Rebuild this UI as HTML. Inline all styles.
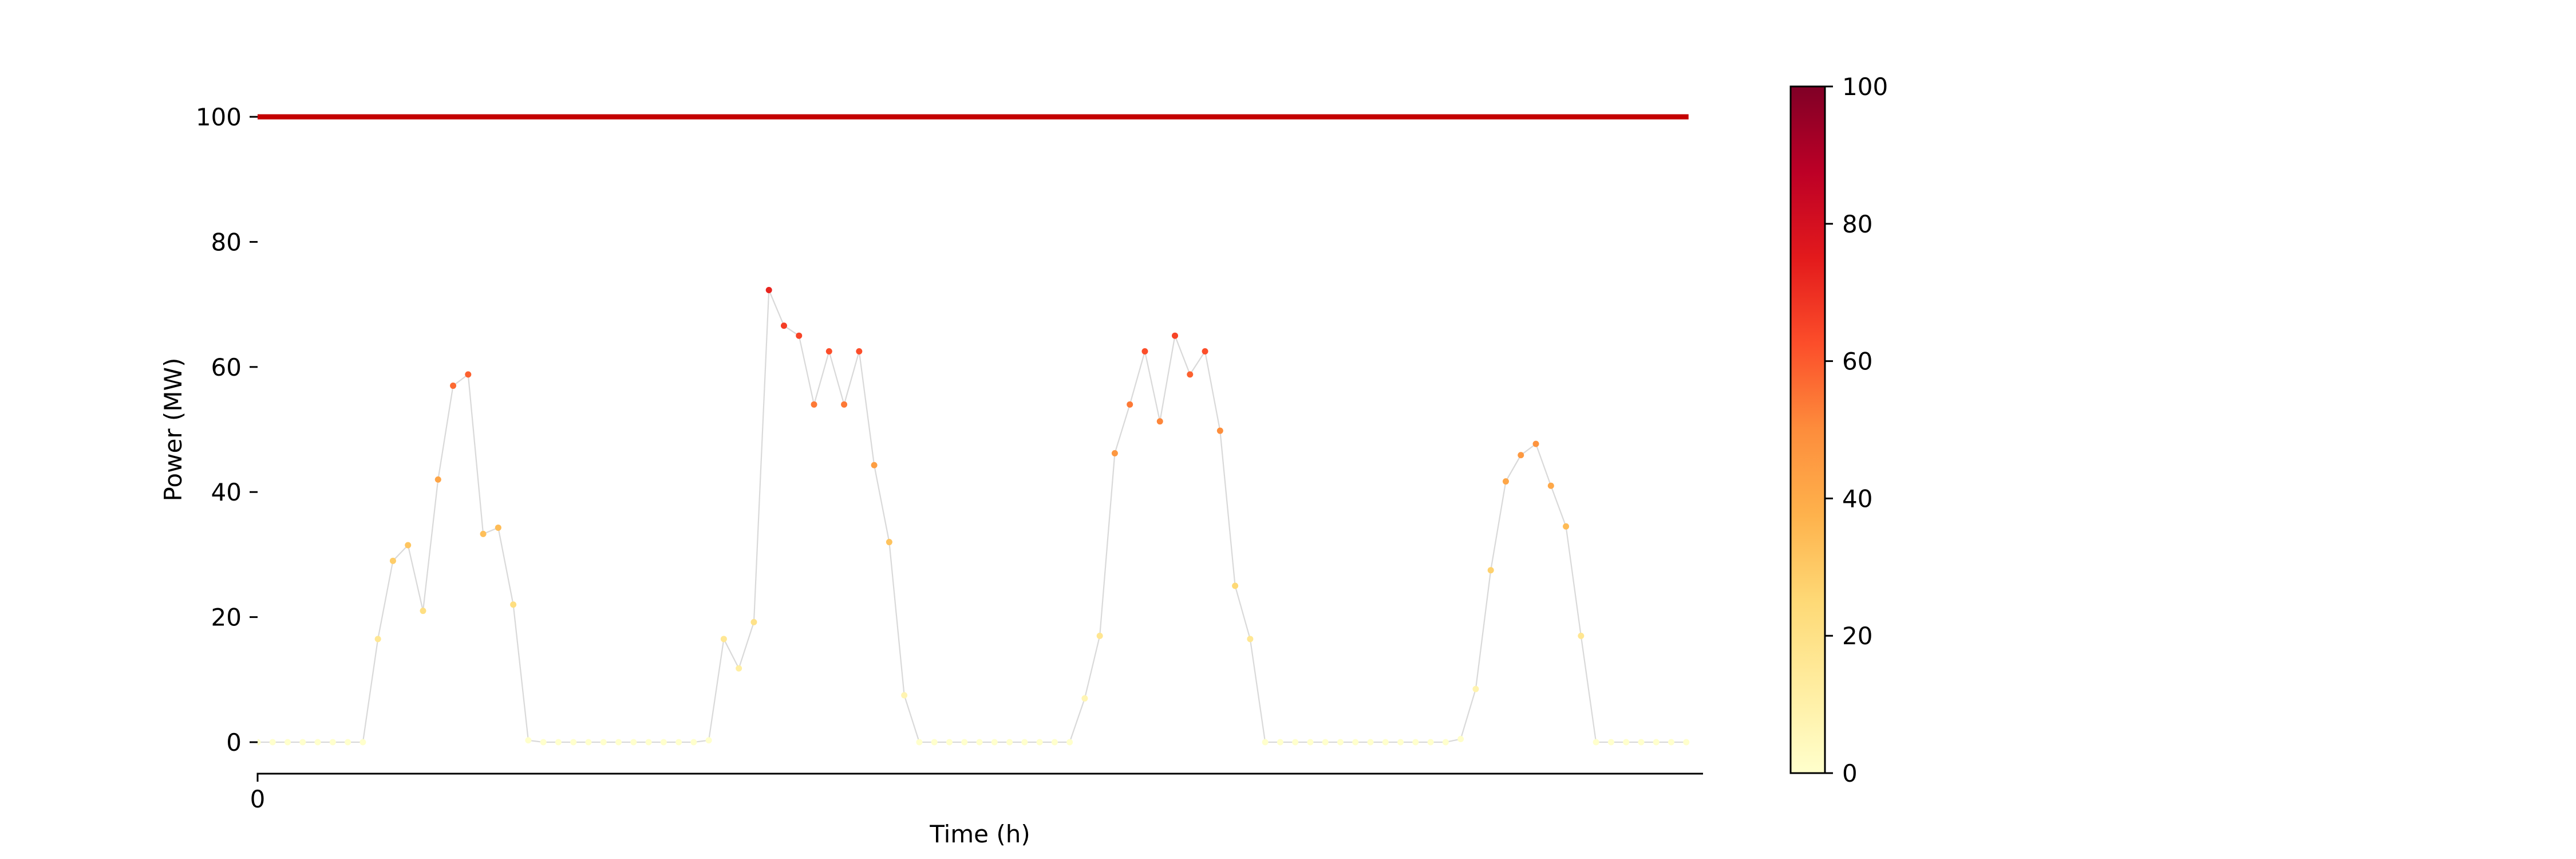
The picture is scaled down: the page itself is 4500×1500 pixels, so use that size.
<!DOCTYPE html>
<html><head><meta charset="utf-8"><style>
html,body{margin:0;padding:0;background:#fff;}
svg{display:block;font-family:"DejaVu Sans","Liberation Sans",sans-serif;}
</style></head><body>
<svg id="chart" width="4500" height="1500" viewBox="0 0 4500 1500" xmlns="http://www.w3.org/2000/svg">
<defs>
<linearGradient id="cbgrad" x1="0" y1="1" x2="0" y2="0">
<stop offset="0" stop-color="#ffffcc"/><stop offset="0.125" stop-color="#ffeda0"/><stop offset="0.25" stop-color="#fed976"/><stop offset="0.375" stop-color="#feb24c"/><stop offset="0.5" stop-color="#fd8d3c"/><stop offset="0.625" stop-color="#fc4e2a"/><stop offset="0.75" stop-color="#e31a1c"/><stop offset="0.875" stop-color="#bd0026"/><stop offset="1" stop-color="#800026"/>
</linearGradient>
<clipPath id="plotclip"><rect x="450" y="100" width="2600" height="1260"/></clipPath>
</defs>
<g id="plot"></g>
<g id="axes"></g>
<g id="cbar"></g>
</svg>
<script>
const powerValues = [0,0,0,0,0,0,0,0,16.5,29,31.5,21,42,57,58.8,33.3,34.3,22,0.3,0,0,0,0,0,0,0,0,0,0,0,0.3,16.5,11.8,19.2,72.3,66.6,65,54,62.5,54,62.5,44.3,32,7.5,0,0,0,0,0,0,0,0,0,0,0,7,17,46.2,54,62.5,51.3,65,58.8,62.5,49.8,25,16.5,0,0,0,0,0,0,0,0,0,0,0,0,0,0.5,8.5,27.5,41.7,45.9,47.7,41,34.5,17,0,0,0,0,0,0,0];
const capacityValue = 100;
const yTicks = [0,20,40,60,80,100];
const xTicks = [0];
const cbarTicks = [0,20,40,60,80,100];

const NS='http://www.w3.org/2000/svg';
const X0=450, XW=2522, XMAX=96;
const Y0=1296, YS=10.92;
const xs=i=>X0+i*XW/XMAX;
const ys=v=>Y0-v*YS;
const CB={x:3128,w:60,top:151,bot:1350};
const cbY=v=>CB.bot-(v/100)*(CB.bot-CB.top);
const stops=['#ffffcc','#ffeda0','#fed976','#feb24c','#fd8d3c','#fc4e2a','#e31a1c','#bd0026','#800026'];
function hex(c){return [1,3,5].map(k=>parseInt(c.substr(k,2),16));}
function cmap(v){let t=Math.max(0,Math.min(1,v/100))*8;let i=Math.min(7,Math.floor(t));let f=t-i;let a=hex(stops[i]),b=hex(stops[i+1]);return 'rgb('+a.map((c,k)=>Math.round(c+(b[k]-c)*f)).join(',')+')';}
function mk(tag,attrs,parent){const e=document.createElementNS(NS,tag);for(const k in attrs)e.setAttribute(k,attrs[k]);parent.appendChild(e);return e;}

const plot=document.getElementById('plot');
const axes=document.getElementById('axes');
const cbar=document.getElementById('cbar');

const cap=mk('line',{x1:xs(0),x2:xs(powerValues.length-1)+4,y1:ys(capacityValue),y2:ys(capacityValue),stroke:'#c40000','stroke-width':9},plot);



const pl=mk('polyline',{points:powerValues.map((v,i)=>xs(i)+','+ys(v)).join(' '),fill:'none',stroke:'#d9d9d9','stroke-width':2.2,'clip-path':'url(#plotclip)'},plot);



const pg=mk('g',{'clip-path':'url(#plotclip)'},plot);
powerValues.forEach((v,i)=>{
  const c=mk('circle',{cx:xs(i),cy:ys(v),r:5.5,fill:cmap(v)},pg);
  
  
});

yTicks.forEach(t=>{
  const y=ys(t);
  const tk=mk('line',{x1:X0-14,x2:X0,y1:y,y2:y,stroke:'#000','stroke-width':3},axes);
  
  
  const tx=mk('text',{x:X0-28,y:y+15,'text-anchor':'end','font-size':42,fill:'#000'},axes);
  tx.textContent=t;
  
  
});
const sp=mk('line',{x1:X0-1.5,x2:2975,y1:1351,y2:1351,stroke:'#000','stroke-width':3},axes);


xTicks.forEach(t=>{
  const tk=mk('line',{x1:xs(t),x2:xs(t),y1:1351,y2:1365,stroke:'#000','stroke-width':3},axes);
  
  
  const tx=mk('text',{x:xs(t),y:1410,'text-anchor':'middle','font-size':42,fill:'#000'},axes);
  tx.textContent=t;
  
  
});
const xl=mk('text',{x:1712,y:1471,'text-anchor':'middle','font-size':42,fill:'#000'},axes);
xl.textContent='Time (h)';


const yl=mk('text',{x:0,y:0,'text-anchor':'middle','font-size':42,fill:'#000',transform:'translate(317,750) rotate(-90)'},axes);
yl.textContent='Power (MW)';



const cr=mk('rect',{x:CB.x,y:CB.top,width:CB.w,height:CB.bot-CB.top,fill:'url(#cbgrad)',stroke:'#000','stroke-width':3},cbar);


cbarTicks.forEach(t=>{
  const y=cbY(t);
  const tk=mk('line',{x1:CB.x+CB.w,x2:CB.x+CB.w+14,y1:y,y2:y,stroke:'#000','stroke-width':3},cbar);
  
  
  const tx=mk('text',{x:CB.x+CB.w+30,y:y+15,'font-size':42,fill:'#000'},cbar);
  tx.textContent=t;
  
  
});
</script>
</body></html>
